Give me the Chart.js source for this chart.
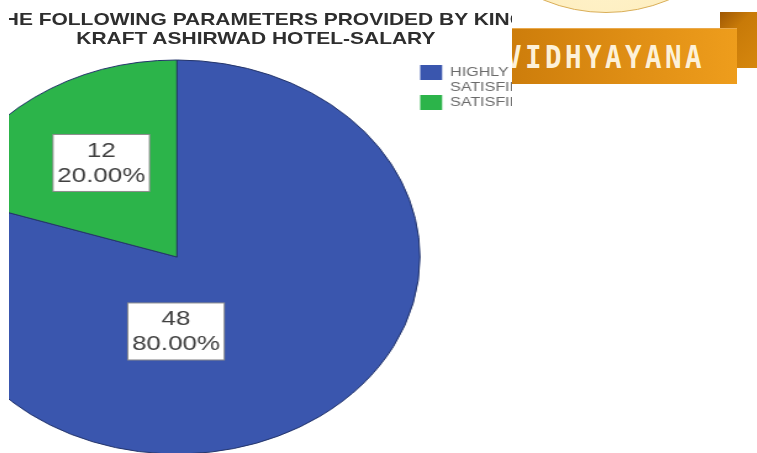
<!DOCTYPE html>
<html>
<head>
<meta charset="utf-8">
<script src="https://cdn.jsdelivr.net/npm/chart.js@4.4.1/dist/chart.umd.min.js"></script>
<style>
html, body { margin: 0; padding: 0; width: 757px; height: 453px; overflow: hidden; background: #fff; }
#wrap { position: absolute; left: -80px; top: 0; width: 500px; height: 460px; transform: scaleX(1.2335); transform-origin: 0 0; }
#pie { position: absolute; left: 0; top: 0; }
.ttl { position: absolute; white-space: nowrap; font: bold 17px "Liberation Sans", Arial, sans-serif; color: #2e2e2e; line-height: 20px; }
#t1 { left: 57.5px; top: 10px; }
#t2 { left: 0; width: 544.6px; text-align: center; top: 29px; }
.blk { position: absolute; }
#edge { left: 0; top: 0; width: 9px; height: 453px; background: #fff; }
#cover { left: 512px; top: 0; width: 245px; height: 453px; background: #fff; }
#sun { left: 444px; top: -311px; width: 324px; height: 324px; border-radius: 50%;
  background: radial-gradient(circle at 50% 80%, #fff4cf, #fbdf98); border: 1.5px solid #d9ae58; box-sizing: border-box; }
#tab { left: 720px; top: 12px; width: 37px; height: 56px;
  background: linear-gradient(135deg, #9f5804 0%, #c87a08 35%, #d6870e 100%); }
#banner { left: 512px; top: 28px; width: 225px; height: 56px; overflow: hidden;
  background: linear-gradient(90deg, #cd7d0b, #e08f15 55%, #ee9d1c); border-top: 1px solid #eaa94c; box-sizing: border-box; }
#brand { position: absolute; left: -7px; top: 10px; white-space: nowrap; font: bold 32px "DejaVu Sans Mono", monospace;
  letter-spacing: 4px; color: #fdf1d8; line-height: 36px; transform: scaleX(0.86); transform-origin: 0 0; }
</style>
</head>
<body>
<div id="wrap">
  <canvas id="pie" width="500" height="460"></canvas>
  <div class="ttl" id="t1">THE FOLLOWING PARAMETERS PROVIDED BY KINGS</div>
  <div class="ttl" id="t2">KRAFT ASHIRWAD HOTEL-SALARY</div>
</div>
<div class="blk" id="edge"></div>
<div class="blk" id="cover"></div>
<div class="blk" id="sun"></div>
<div class="blk" id="tab"></div>
<div class="blk" id="banner"><div id="brand">VIDHYAYANA</div></div>
<script>
const categories = ['HIGHLY SATISFIED', 'SATISFIED'];
const counts = [48, 12];
const sliceColors = ['#3a56ae', '#2cb44a'];

// where each value box sits: fraction along the slice's arc, fraction of the radius
const labelSpots = [
    { along: 0.627, radial: 0.378 },
    { along: 0.54, radial: 0.57 }
];

const sliceLabels = {
    id: 'sliceLabels',
    afterDatasetsDraw(chart) {
        const ctx = chart.ctx;
        const total = counts.reduce((a, b) => a + b, 0);
        chart.getDatasetMeta(0).data.forEach((arc, i) => {
            const p = arc.getProps(['x', 'y', 'startAngle', 'endAngle', 'outerRadius'], true);
            const spot = labelSpots[i];
            const a = p.startAngle + (p.endAngle - p.startAngle) * spot.along;
            const cx = p.x + Math.cos(a) * p.outerRadius * spot.radial;
            const cy = p.y + Math.sin(a) * p.outerRadius * spot.radial;
            const lines = [String(counts[i]), (counts[i] / total * 100).toFixed(2) + '%'];
            ctx.save();
            ctx.font = '21px "Liberation Sans", Arial, sans-serif';
            const w = Math.max(...lines.map(t => ctx.measureText(t).width)) + 7;
            const h = 57;
            ctx.fillStyle = '#fff';
            ctx.fillRect(cx - w / 2, cy - h / 2, w, h);
            ctx.strokeStyle = '#8c8c8c';
            ctx.lineWidth = 1;
            ctx.strokeRect(cx - w / 2, cy - h / 2, w, h);
            ctx.fillStyle = '#404040';
            ctx.textAlign = 'center';
            ctx.textBaseline = 'middle';
            ctx.fillText(lines[0], cx, cy - 12);
            ctx.fillText(lines[1], cx, cy + 13);
            ctx.restore();
        });
    }
};

new Chart(document.getElementById('pie'), {
    type: 'pie',
    data: {
        labels: categories,
        datasets: [{
            data: counts,
            backgroundColor: sliceColors,
            borderColor: '#23346a',
            borderWidth: 1,
            radius: 197,
            clip: false
        }]
    },
    options: {
        responsive: false,
        animation: false,
        layout: { padding: { left: 11.3, right: 14.7, top: 65, bottom: 11 } },
        plugins: {
            tooltip: { enabled: false },
            legend: {
                position: 'right',
                align: 'start',
                maxWidth: 80,
                labels: {
                    boxWidth: 18,
                    boxHeight: 15,
                    padding: 0,
                    color: '#6a6a6a',
                    font: { family: '"Liberation Sans", Arial, sans-serif', size: 13, lineHeight: '15px' },
                    generateLabels(chart) {
                        return Chart.overrides.pie.plugins.legend.labels.generateLabels(chart)
                            .map(l => ({ ...l, text: l.text.split(' '), lineWidth: 0 }));
                    }
                }
            }
        }
    },
    plugins: [sliceLabels]
});
</script>
</body>
</html>
